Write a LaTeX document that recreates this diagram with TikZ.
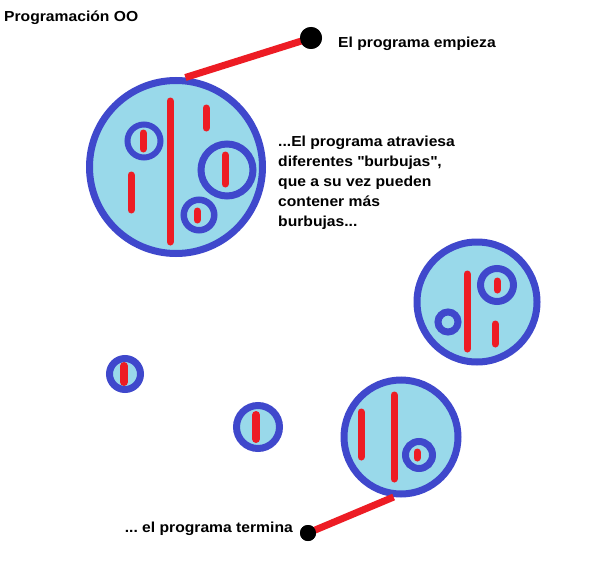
\documentclass[tikz,border=0pt]{standalone}
\usepackage{fontspec}
\setmainfont{Liberation Sans}[FakeStretch=1.08]
\frenchspacing
\definecolor{ringblue}{RGB}{63,72,204}
\definecolor{bubblefill}{RGB}{153,217,234}
\definecolor{barred}{RGB}{237,28,36}
\tikzset{
  bubble/.style={circle, draw=ringblue, fill=bubblefill, line width=7pt, inner sep=0pt, minimum size=#1},
  bar/.style={draw=barred, line width=7pt, line cap=round},
  link/.style={draw=barred, line width=7pt},
  dot/.style={circle, fill=black, inner sep=0pt, minimum size=#1},
  lbl/.style={font=\fontsize{14.5}{20}\selectfont\bfseries, inner sep=0pt}
}
\begin{document}
\begin{tikzpicture}[x=1pt,y=-1pt]
\useasboundingbox[fill=white] (0,0) rectangle (602,578);
% title
\node[lbl, anchor=base west] (title) at (4,22) {Programación OO};
% big bubble 1
\node[bubble=173pt] (b1) at (176,167) {};
\node[bubble=33pt, line width=6pt] (b1a) at (144,141) {};
\node[bubble=52pt] (b1b) at (227,170) {};
\node[bubble=30.5pt, line width=6.5pt] (b1c) at (199,215) {};
\draw[bar] (170,101) -- (170,242);
\draw[bar] (206,108) -- (206,128);
\draw[bar] (131,175) -- (131,210);
\draw[bar] (143,133) -- (143,149);
\draw[bar] (225,155) -- (225,184);
\draw[bar] (197,211) -- (197,220);
% bubble 2
\node[bubble=120pt] (b2) at (477,302) {};
\node[bubble=33pt] (b2a) at (497,285) {};
\node[bubble=20pt] (b2b) at (448,322) {};
\draw[bar] (467,274) -- (467,349);
\draw[bar] (495,324) -- (495,344);
\draw[bar] (497,281) -- (497,290);
% bubble 3
\node[bubble=114pt] (b3) at (401,437) {};
\node[bubble=27pt] (b3a) at (419,455) {};
\draw[bar] (361,412) -- (361,457);
\draw[bar] (394,395) -- (394,479);
\draw[bar] (417,452) -- (417,458);
% small bubbles
\node[bubble=31pt] (b4) at (125,374) {};
\draw[bar, line width=8pt] (124,366) -- (124,382);
\node[bubble=43pt] (b5) at (258,427) {};
\draw[bar, line width=8pt] (256,415) -- (256,439);
% start / end
\node[dot=22pt] (start) at (311,38) {};
\node[dot=16pt] (stop) at (308,533) {};
\draw[link] (b1.84.5) -- (start.center);
\draw[link] (b3.-97) -- (stop.center);
\node[dot=22pt] at (start) {};
\node[dot=16pt] at (stop) {};
% labels
\node[lbl, anchor=base west] (lstart) at (338,48) {El programa empieza};
\node[lbl, anchor=north west, align=left] (ldesc) at (278,135.5) {...El programa atraviesa\\diferentes \textquotedbl burbujas\textquotedbl ,\\que a su vez pueden\\contener más\\burbujas...};
\node[lbl, anchor=base east] (lstop) at (293,532) {... el programa termina};
\end{tikzpicture}
\end{document}
